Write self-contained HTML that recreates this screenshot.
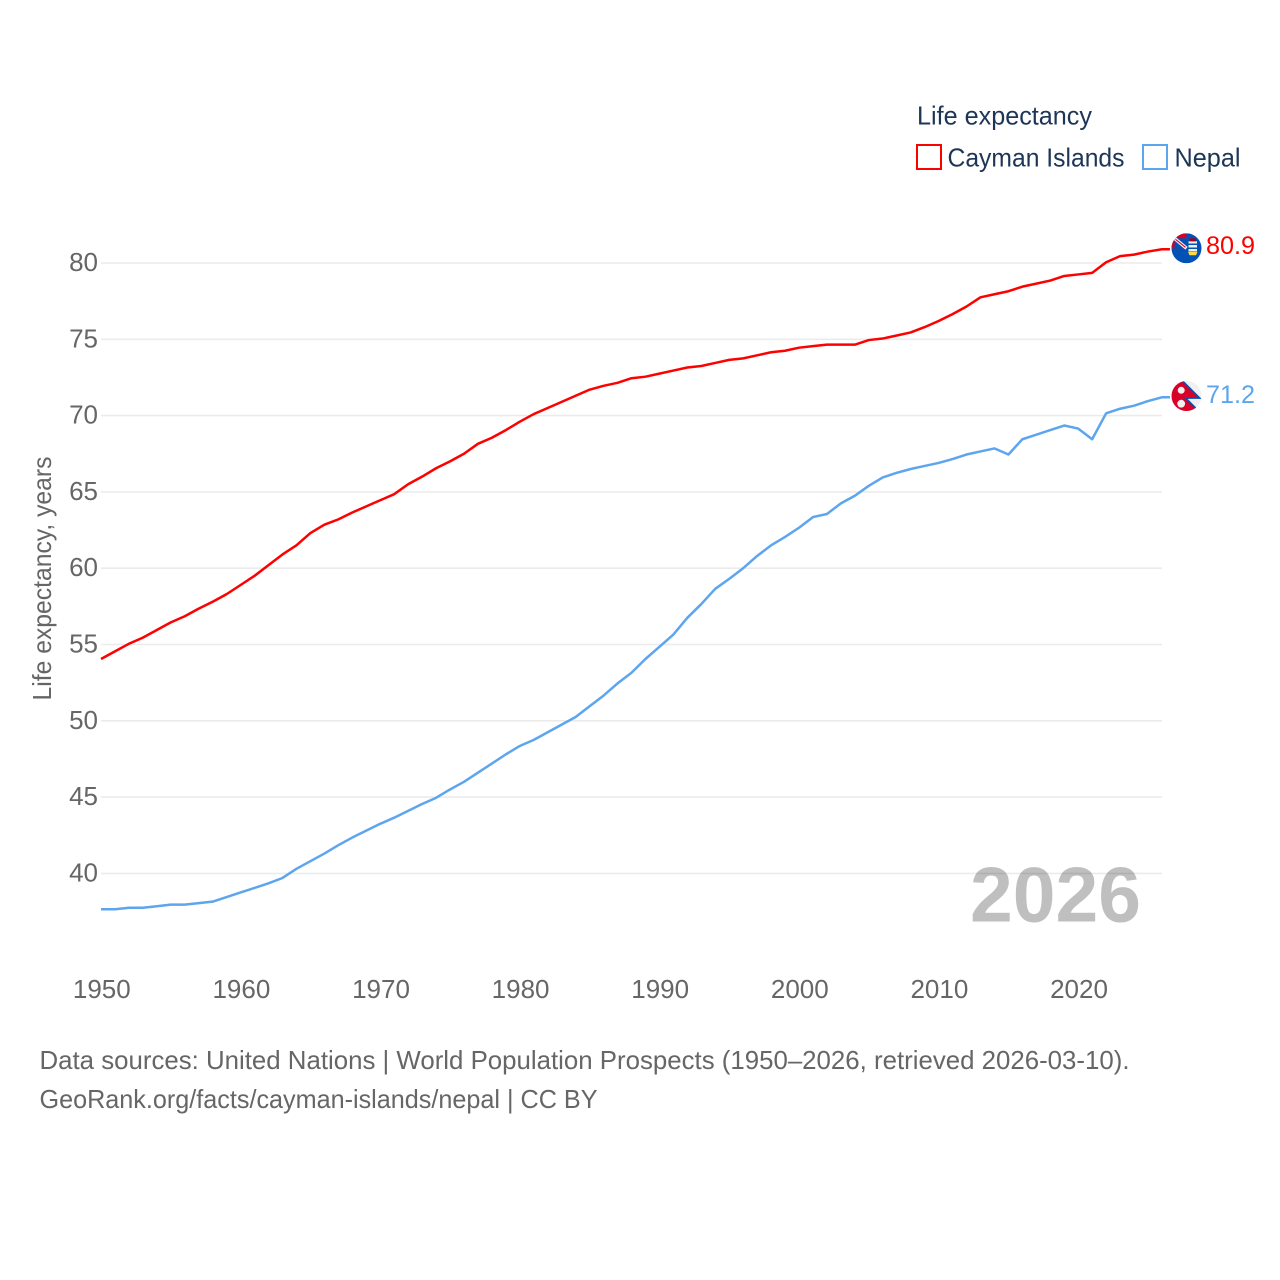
<!DOCTYPE html>
<html lang="en">
<head>
<meta charset="utf-8">
<title>Life expectancy: Cayman Islands and Nepal</title>
<style>
html,body{margin:0;padding:0;background:#fff;}
svg{display:block;font-family:"Liberation Sans",sans-serif;}
</style>
</head>
<body>
<svg id="chart" xmlns="http://www.w3.org/2000/svg" width="1280" height="1280" viewBox="0 0 1280 1280">
  <defs>
    <clipPath id="flag-clip-a"><circle cx="0" cy="0" r="15"/></clipPath>
    <clipPath id="flag-clip-b"><circle cx="0" cy="0" r="15"/></clipPath>
  </defs>
  <rect x="0" y="0" width="1280" height="1280" fill="#fff"/>

  <g id="grid"></g>
  <g id="y-ticks"></g>
  <g id="x-ticks"></g>

  <text transform="translate(51,700.5) rotate(-90)" font-size="26" fill="#666" textLength="244" lengthAdjust="spacingAndGlyphs">Life expectancy, years</text>

  <text x="970" y="921.5" font-size="78" font-weight="700" fill="#000" fill-opacity="0.25" textLength="171" lengthAdjust="spacingAndGlyphs">2026</text>

  <g id="series"></g>

  <g id="flag-cayman" transform="translate(1186.5,248.3)">
    <g clip-path="url(#flag-clip-a)">
      <rect x="-15" y="-15" width="30" height="30" fill="#0052b4"/>
      <rect x="-15" y="-15" width="15" height="15" fill="#d80027"/>
      <rect x="-12" y="-10" width="12" height="10" fill="#0052b4"/>
      <path d="M-12,-10 L0,0" stroke="#f0f0f0" stroke-width="3.4"/>
      <path d="M-11,-9 L-1,-1" stroke="#d80027" stroke-width="1"/>
      <rect x="2" y="-7" width="8.5" height="10" fill="#f0f0f0"/>
      <path d="M2,-4 H10.5 M2,0 H10.5" stroke="#0052b4" stroke-width="1.5"/>
      <rect x="3" y="-10" width="6.5" height="3" fill="#a2001d"/>
      <path d="M1.5,3.5 H11 L9.5,7 H3 Z" fill="#ffda44"/>
    </g>
  </g>

  <g id="flag-nepal" transform="translate(1186.5,396)">
    <g clip-path="url(#flag-clip-b)">
      <rect x="-15" y="-15" width="30" height="30" fill="#f0f0f0"/>
      <path d="M-15,-15 L-4,-15 L13,2 L-1,2 L12,15 L-15,15 Z" fill="#d80027"/>
      <path d="M-4,-15 L13,2 L-1,2 L12,15" fill="none" stroke="#0052b4" stroke-width="1.8"/>
      <circle cx="-5.3" cy="-5.7" r="3.5" fill="#f0f0f0"/>
      <circle cx="-5.3" cy="7.7" r="3.9" fill="#f0f0f0"/>
    </g>
  </g>

  <text x="1206" y="254" font-size="25.2" fill="#ff0000">80.9</text>
  <text x="1206" y="403" font-size="25.2" fill="#5da5ee">71.2</text>

  <text x="917" y="124.5" font-size="26" fill="#1d3557" textLength="175" lengthAdjust="spacingAndGlyphs">Life expectancy</text>
  <g>
    <rect x="917" y="145" width="24" height="24" fill="#fff" stroke="#ff0000" stroke-width="2"/>
    <text x="947.5" y="166.5" font-size="26" fill="#1d3557" textLength="177" lengthAdjust="spacingAndGlyphs">Cayman Islands</text>
  </g>
  <g>
    <rect x="1143" y="145" width="24" height="24" fill="#fff" stroke="#5da5ee" stroke-width="2"/>
    <text x="1174.5" y="166.5" font-size="26" fill="#1d3557" textLength="66" lengthAdjust="spacingAndGlyphs">Nepal</text>
  </g>

  <text x="39.5" y="1069" font-size="26" fill="#666" textLength="1090" lengthAdjust="spacingAndGlyphs">Data sources: United Nations | World Population Prospects (1950–2026, retrieved 2026-03-10).</text>
  <text x="39.5" y="1108" font-size="26" fill="#666" textLength="558" lengthAdjust="spacingAndGlyphs">GeoRank.org/facts/cayman-islands/nepal | CC BY</text>
</svg>
<script>
const startYear = 1950;
const xTickLabels = [1950, 1960, 1970, 1980, 1990, 2000, 2010, 2020];
const yTickLabels = [40, 45, 50, 55, 60, 65, 70, 75, 80];
const caymanValues = [
  54.05, 54.55, 55.05, 55.45, 55.95, 56.45, 56.85, 57.35, 57.8, 58.3,
  58.9, 59.5, 60.2, 60.9, 61.5, 62.3, 62.85, 63.2, 63.65, 64.05,
  64.45, 64.85, 65.5, 66.0, 66.55, 67.0, 67.5, 68.15, 68.55, 69.05,
  69.6, 70.1, 70.5, 70.9, 71.3, 71.7, 71.95, 72.15, 72.45, 72.55,
  72.75, 72.95, 73.15, 73.25, 73.45, 73.65, 73.75, 73.95, 74.15, 74.25,
  74.45, 74.55, 74.65, 74.65, 74.65, 74.95, 75.05, 75.25, 75.45, 75.8,
  76.2, 76.65, 77.15, 77.75, 77.95, 78.15, 78.45, 78.65, 78.85, 79.15,
  79.25, 79.35, 80.05, 80.45, 80.55, 80.75, 80.9
];
const nepalValues = [
  37.65, 37.65, 37.75, 37.75, 37.85, 37.95, 37.95, 38.05, 38.15, 38.45,
  38.75, 39.05, 39.35, 39.7, 40.3, 40.8, 41.3, 41.85, 42.35, 42.8,
  43.25, 43.65, 44.1, 44.55, 44.95, 45.5, 46.0, 46.6, 47.2, 47.8,
  48.35, 48.75, 49.25, 49.75, 50.25, 50.95, 51.65, 52.45, 53.15, 54.05,
  54.85, 55.65, 56.75, 57.65, 58.65, 59.3, 60.0, 60.8, 61.5, 62.05,
  62.65, 63.35, 63.55, 64.25, 64.75, 65.4, 65.95, 66.25, 66.5, 66.7,
  66.9, 67.15, 67.45, 67.65, 67.85, 67.45, 68.45, 68.75, 69.05, 69.35,
  69.15, 68.45, 70.15, 70.45, 70.65, 70.95, 71.2
];

const NS = 'http://www.w3.org/2000/svg';
function xScale(year) { return 101 + (year - 1950) * 13.96; }
function yScale(value) { return 263 + (80 - value) * 15.26; }

const gridGroup = document.getElementById('grid');
const yTickGroup = document.getElementById('y-ticks');
const xTickGroup = document.getElementById('x-ticks');
const seriesGroup = document.getElementById('series');

yTickLabels.forEach(function (tick) {
  const line = document.createElementNS(NS, 'line');
  
  
  line.setAttribute('x1', 101);
  line.setAttribute('x2', 1162);
  line.setAttribute('y1', yScale(tick));
  line.setAttribute('y2', yScale(tick));
  line.setAttribute('stroke', '#ebebeb');
  line.setAttribute('stroke-width', '1.6');
  gridGroup.appendChild(line);

  const label = document.createElementNS(NS, 'text');
  
  
  label.setAttribute('x', 98);
  label.setAttribute('y', yScale(tick) + 8);
  label.setAttribute('text-anchor', 'end');
  label.setAttribute('font-size', '26');
  label.setAttribute('fill', '#666');
  label.textContent = tick;
  yTickGroup.appendChild(label);
});

xTickLabels.forEach(function (tick) {
  const label = document.createElementNS(NS, 'text');
  
  
  label.setAttribute('x', xScale(tick) + 0.8);
  label.setAttribute('y', 998);
  label.setAttribute('text-anchor', 'middle');
  label.setAttribute('font-size', '26');
  label.setAttribute('fill', '#666');
  label.textContent = tick;
  xTickGroup.appendChild(label);
});

function drawSeries(values, colour, name) {
  const points = values.map(function (value, i) {
    return xScale(startYear + i).toFixed(2) + ',' + yScale(value).toFixed(2);
  });
  const lastY = yScale(values[values.length - 1]);
  const lastX = xScale(startYear + values.length - 1);
  points.push((lastX + 8).toFixed(2) + ',' + lastY.toFixed(2));
  const line = document.createElementNS(NS, 'polyline');
  
  
  line.setAttribute('points', points.join(' '));
  line.setAttribute('fill', 'none');
  line.setAttribute('stroke', colour);
  line.setAttribute('stroke-width', '2.5');
  line.setAttribute('stroke-linejoin', 'round');
  seriesGroup.appendChild(line);
}

drawSeries(caymanValues, '#ff0000', 'cayman-islands-line');
drawSeries(nepalValues, '#5da5ee', 'nepal-line');
</script>
</body>
</html>
